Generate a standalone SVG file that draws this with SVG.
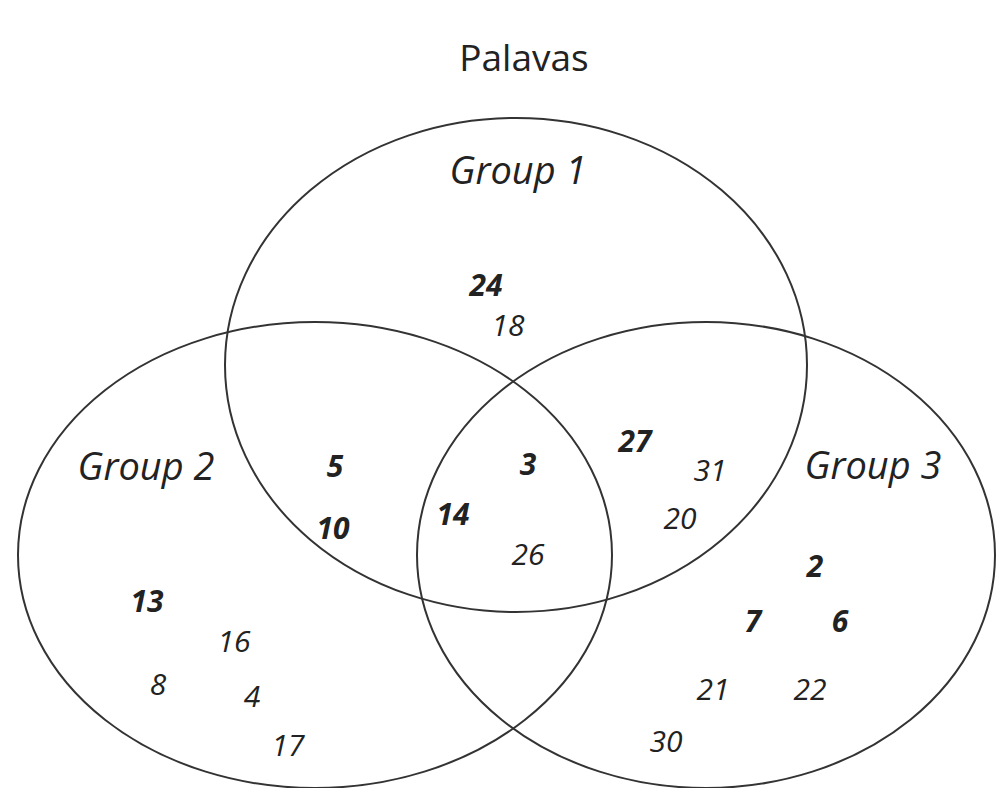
<svg xmlns="http://www.w3.org/2000/svg" width="997" height="788" viewBox="0 0 997 788">
<style>
.bg{fill:#fff}
.set{fill:none;stroke:#333;stroke-width:2}
.t{font-family:"Open Sans","Liberation Sans",sans-serif;fill:#222;text-anchor:middle}
.title{font-size:37px}
.lab{font-size:38px;font-style:italic}
.n{font-size:30px;font-style:italic}
.b{font-weight:bold}
</style>
<rect class="bg" x="0" y="0" width="997" height="788"/>
<text class="t title" x="524" y="71">Palavas</text>
<g id="group1">
<ellipse class="set" cx="516" cy="365" rx="291" ry="247"/>
<text class="t lab" x="518" y="184">Group 1</text>
</g>
<g id="group2">
<ellipse class="set" cx="315" cy="555" rx="297" ry="233"/>
<text class="t lab" x="146" y="480">Group 2</text>
</g>
<g id="group3">
<ellipse class="set" cx="706" cy="555" rx="289" ry="233"/>
<text class="t lab" x="873" y="479">Group 3</text>
</g>
<g id="numbers">
<text class="t n b" x="486" y="296">24</text>
<text class="t n" x="508" y="336">18</text>
<text class="t n b" x="335" y="477">5</text>
<text class="t n b" x="333" y="539">10</text>
<text class="t n b" x="528" y="475">3</text>
<text class="t n b" x="453" y="525">14</text>
<text class="t n" x="528" y="565">26</text>
<text class="t n b" x="635" y="452">27</text>
<text class="t n" x="710" y="481">31</text>
<text class="t n" x="680" y="529">20</text>
<text class="t n b" x="815" y="577">2</text>
<text class="t n b" x="753" y="632">7</text>
<text class="t n b" x="840" y="632">6</text>
<text class="t n" x="713" y="700">21</text>
<text class="t n" x="810" y="700">22</text>
<text class="t n" x="666" y="752">30</text>
<text class="t n b" x="147" y="612">13</text>
<text class="t n" x="234" y="652">16</text>
<text class="t n" x="158" y="695">8</text>
<text class="t n" x="252" y="707">4</text>
<text class="t n" x="288" y="756">17</text>
</g>
</svg>
